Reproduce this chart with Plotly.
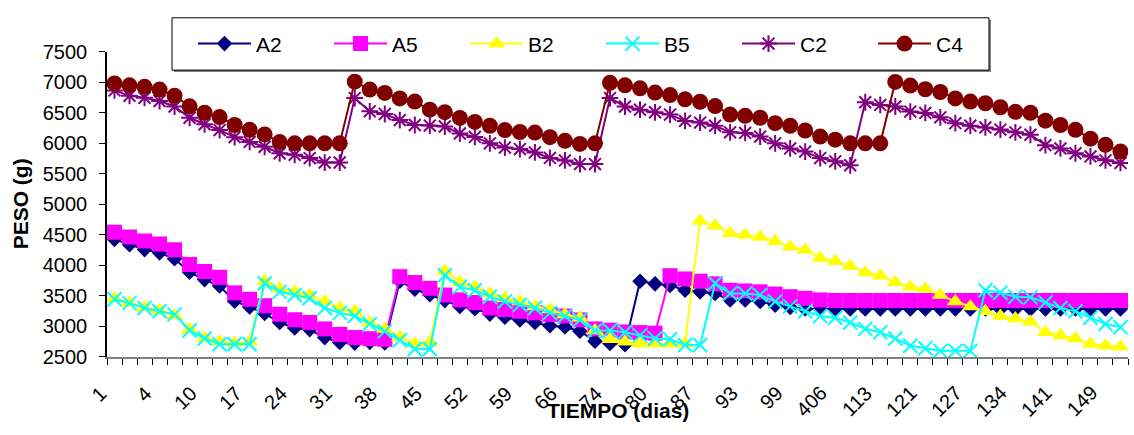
import plotly.graph_objects as go

# Day labels shown on the category axis (every third sampling point)
tick_labels = ["1", "4", "10", "17", "24", "31", "38", "45", "52", "59", "66", "74",
               "80", "87", "93", "99", "406", "113", "121", "127", "134", "141", "149"]

# Weight (g) of each sample at every sampling point
A2 = [4427, 4338, 4259, 4206, 4110, 3889, 3768, 3662, 3413, 3318, 3214, 3065, 2976, 2949,
      2818, 2739, 2728, 2740, 2730,
      3741, 3610, 3520, 3424, 3329, 3292, 3203, 3150, 3108, 3065, 3012, 2991, 2922, 2760,
      2720, 2700,
      3741, 3698, 3673, 3593, 3567, 3540, 3435, 3435, 3408, 3350, 3313, 3285, 3285, 3285,
      3285, 3285, 3285, 3285, 3285, 3285, 3285, 3285, 3285, 3285, 3285, 3285, 3285, 3285,
      3285, 3285, 3285, 3285, 3285]

A5 = [4545, 4465, 4400, 4350, 4255, 4015, 3900, 3805, 3550, 3445, 3340, 3200, 3110, 3065,
      2960, 2870, 2820, 2800, 2790,
      3816, 3720, 3625, 3515, 3436, 3393, 3302, 3277, 3250, 3223, 3198, 3171, 3108, 2960,
      2940, 2910, 2900, 2890,
      3831, 3778, 3741, 3698, 3593, 3582, 3567, 3530, 3488, 3461, 3435, 3425, 3425, 3425,
      3425, 3425, 3425, 3425, 3425, 3425, 3425, 3425, 3425, 3425, 3425, 3425, 3425, 3425,
      3425, 3425, 3425, 3425, 3425]

B2 = [3460, 3390, 3310, 3260, 3185, 2950, 2810, 2755, 2730, 2755,
      3741, 3619, 3567, 3515, 3408, 3302, 3250, 3065, 2960, 2827, 2723, 2740,
      3910, 3725, 3646, 3540, 3461, 3408, 3329, 3277, 3198, 3144, 2934, 2790, 2748, 2720,
      2720, 2720, 2720,
      4728, 4649, 4528, 4501, 4465, 4395, 4307, 4253, 4121, 4069, 3990, 3884, 3831, 3725,
      3646, 3619, 3515, 3408, 3329, 3250, 3171, 3129, 3076, 2906, 2854, 2802, 2712, 2685,
      2669]

B5 = [3445, 3382, 3302, 3250, 3198, 2934, 2802, 2710, 2710, 2710,
      3709, 3567, 3515, 3461, 3302, 3223, 3171, 3040, 2920, 2775, 2630, 2630,
      3840, 3646, 3593, 3488, 3408, 3355, 3302, 3223, 3171, 3108, 2934, 2934, 2906, 2854,
      2802, 2790, 2696, 2696,
      3709, 3540, 3540, 3515, 3408, 3329, 3250, 3171, 3144, 3065, 2960, 2906, 2802, 2685,
      2643, 2601, 2601, 2601,
      3593, 3551, 3488, 3477, 3393, 3302, 3250, 3144, 3040, 2986]

C2 = [6866, 6778, 6746, 6692, 6603, 6418, 6312, 6217, 6101, 6022, 5943, 5837, 5811, 5758,
      5685, 5685,
      6740, 6524, 6480, 6380, 6300, 6290, 6275, 6160, 6105, 6000, 5930, 5905, 5850, 5760,
      5720, 5660, 5660,
      6740, 6603, 6550, 6508, 6470, 6366, 6339, 6287, 6180, 6170, 6110, 6000, 5916, 5864,
      5758, 5705, 5640,
      6672, 6629, 6603, 6520, 6497, 6425, 6330, 6287, 6260, 6225, 6180, 6140, 5970, 5916,
      5837, 5785, 5721, 5678]

C4 = [6980, 6950, 6925, 6880, 6780, 6605, 6500, 6430, 6300, 6220, 6145, 6020, 6000, 6000,
      6000, 6000,
      7010, 6880, 6825, 6735, 6683, 6550, 6510, 6415, 6350, 6287, 6217, 6185, 6175, 6101,
      6040, 5990, 6000,
      6990, 6950, 6900, 6830, 6790, 6720, 6680, 6610, 6470, 6450, 6418, 6330, 6287, 6210,
      6110, 6060, 6000, 6000, 6000,
      7005, 6945, 6885, 6840, 6735, 6683, 6656, 6590, 6515, 6500, 6370, 6300, 6220, 6075,
      5975, 5865]

FONT = "Liberation Sans, Arial, sans-serif"
W, H = 1134, 435
L, R = 107, 1128          # horizontal extent of the plot box (px)
PLOT_TOP, B = 42, 357     # vertical extent of the plot box (px)
T = 0                     # paper starts at the top edge so the legend sits inside it


def px_x(px):
    return (px - L) / (R - L)


def px_y(py):
    return (B - py) / (B - T)


series = [
    ("A2", A2, "#000080", dict(symbol="diamond", size=12)),
    ("A5", A5, "#FF00FF", dict(symbol="square", size=15)),
    ("B2", B2, "#FFFF00", dict(symbol="triangle-up", size=15)),
    ("B5", B5, "#00FFFF", dict(symbol="x-thin", size=14, line=dict(width=2, color="#00FFFF"))),
    ("C2", C2, "#800080", dict(symbol="asterisk", size=14, line=dict(width=2, color="#800080"))),
    ("C4", C4, "#800000", dict(symbol="circle", size=16)),
]

fig = go.Figure()
for name, vals, color, mk in series:
    marker = dict(color=color)
    marker.update(mk)
    fig.add_trace(go.Scatter(
        x=list(range(len(vals))), y=vals, name=name, mode="lines+markers",
        line=dict(color=color, width=2), marker=marker,
    ))

n = len(A2)

# rotated day labels under every third point, ending just left of the point
day_labels = [
    dict(text=lab, xref="x", yref="paper", x=i, y=0, xanchor="right", yanchor="top",
         textangle=-45, xshift=-4, yshift=-25, showarrow=False, borderpad=0, borderwidth=0,
         font=dict(family=FONT, size=20, color="black"))
    for i, lab in zip(range(0, n, 3), tick_labels)
]

fig.update_layout(
    width=W, height=H,
    margin=dict(l=L, r=W - R, t=T, b=H - B, pad=0),
    paper_bgcolor="white", plot_bgcolor="white",
    font=dict(family=FONT, size=20, color="black"),
    showlegend=True,
    legend=dict(
        orientation="h", x=px_x(193), xanchor="left", y=px_y(34), yanchor="middle",
        bgcolor="rgba(0,0,0,0)", borderwidth=0,
        font=dict(family=FONT, size=21, color="black"),
        entrywidth=68, entrywidthmode="pixels", itemwidth=53,
    ),
    xaxis=dict(
        range=[-0.5, n - 0.5], showgrid=False, zeroline=False,
        showticklabels=False, ticks="",
        showline=True, linecolor="#808080", linewidth=2,
        minor=dict(ticks="outside", tickmode="linear", tick0=-0.5, dtick=1,
                   ticklen=6, tickwidth=1, tickcolor="black"),
    ),
    yaxis=dict(
        domain=[0, px_y(PLOT_TOP)],
        range=[2500, 7500], dtick=500, tick0=2500, showgrid=False, zeroline=False,
        ticks="outside", ticklen=6, tickwidth=1, tickcolor="black",
        ticklabelstandoff=8,
        tickfont=dict(family=FONT, size=20, color="black"),
        showline=True, linecolor="black", linewidth=1.5,
    ),
    shapes=[
        # legend frame with a soft drop shadow
        dict(type="rect", xref="paper", yref="paper",
             x0=px_x(174), x1=px_x(991), y0=px_y(63), y1=px_y(9),
             fillcolor="#808080", line=dict(width=0), layer="above"),
        dict(type="rect", xref="paper", yref="paper",
             x0=px_x(172), x1=px_x(989), y0=px_y(61), y1=px_y(7),
             fillcolor="white", line=dict(color="black", width=1), layer="above"),
    ],
    annotations=day_labels + [
        dict(text="TIEMPO (dias)", xref="paper", yref="paper", x=0.5,
             y=px_y(412), xanchor="center", yanchor="middle", showarrow=False,
             font=dict(family=FONT, size=21, color="black", weight="bold")),
        dict(text="PESO (g)", xref="paper", yref="paper", x=px_x(20),
             y=px_y((PLOT_TOP + B) / 2), xanchor="center", yanchor="middle",
             showarrow=False, textangle=-90,
             font=dict(family=FONT, size=21, color="black", weight="bold")),
    ],
)

fig.write_html("out.html")
